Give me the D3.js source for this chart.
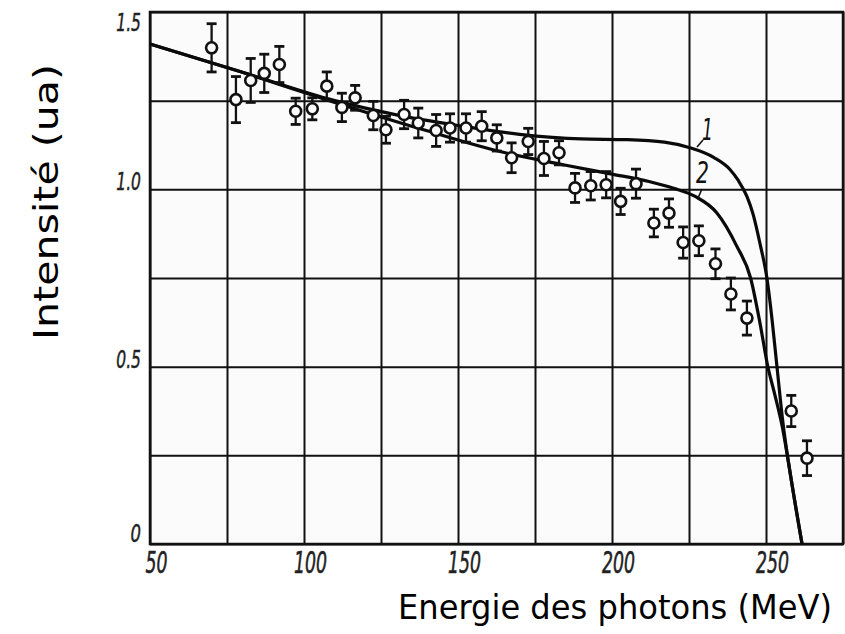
<!DOCTYPE html>
<html>
<head>
<meta charset="utf-8">
<script src="https://cdn.jsdelivr.net/npm/d3@7"></script>
<style>
  html, body { margin: 0; padding: 0; background: #ffffff; }
  svg { display: block; }
</style>
</head>
<body>
<svg id="chart" width="845" height="634"></svg>
<script>
// ---- data ----
const energy = [70.0, 77.9, 82.7, 87.1, 92.0, 97.3, 102.7, 107.4, 112.3, 116.6,
  122.5, 126.6, 132.5, 137.1, 142.9, 147.4, 152.6, 157.7, 162.6, 167.4,
  172.8, 177.9, 182.8, 188.0, 193.1, 198.1, 202.8, 207.8, 213.6, 218.5,
  223.1, 228.2, 233.6, 238.6, 243.8, 258.2, 263.3];
const intensity = [1.399, 1.253, 1.307, 1.327, 1.352, 1.220, 1.227, 1.291, 1.231, 1.258,
  1.208, 1.168, 1.211, 1.187, 1.166, 1.173, 1.173, 1.178, 1.145, 1.089,
  1.135, 1.087, 1.103, 1.004, 1.010, 1.013, 0.966, 1.016, 0.905, 0.933,
  0.850, 0.855, 0.790, 0.705, 0.637, 0.375, 0.242];
const errors = [0.068, 0.065, 0.062, 0.054, 0.051, 0.037, 0.031, 0.040, 0.040, 0.035,
  0.040, 0.038, 0.040, 0.042, 0.045, 0.040, 0.040, 0.041, 0.037, 0.042,
  0.037, 0.048, 0.034, 0.041, 0.040, 0.037, 0.037, 0.041, 0.039, 0.040,
  0.044, 0.042, 0.042, 0.045, 0.048, 0.044, 0.049];

const curve1E = [50, 80, 110, 130, 150, 170, 190, 205, 217, 225, 233, 238.3, 241, 243.8, 245.8, 248.1, 250.3, 252, 253.5, 255.5, 258.5, 261.7];
const curve1V = [1.41, 1.33, 1.25, 1.21, 1.18, 1.155, 1.142, 1.14, 1.133, 1.118, 1.09, 1.056, 1.025, 0.98, 0.93, 0.845, 0.75, 0.63, 0.505, 0.342, 0.165, 0.0];
const curve2E = [50, 80, 110, 140, 164, 185, 200, 212, 220, 227, 234, 240.5, 245, 248, 250.6, 252.9, 255.3, 258.5, 261.7];
const curve2V = [1.41, 1.33, 1.245, 1.165, 1.106, 1.068, 1.043, 1.022, 1.003, 0.98, 0.934, 0.84, 0.75, 0.625, 0.5, 0.42, 0.33, 0.165, 0.0];

const xTicks = [50, 100, 150, 200, 250];
const xTickLabels = ["50", "100", "150", "200", "250"];
const yTicks = [1.5, 1.0, 0.5, 0];
const yTickLabels = ["1.5", "1.0", "0.5", "0"];
const xGrid = [50, 75, 100, 125, 150, 175, 200, 225, 250, 275];
const yGrid = [0, 0.25, 0.5, 0.75, 1.0, 1.25, 1.5];
const curveLabels = ["1", "2"];

// ---- layout ----
const svg = d3.select("#chart");
const x = d3.scaleLinear().domain([50, 275]).range([150, 843]);
const y = d3.scaleLinear().domain([0, 1.5]).range([544, 12]);

svg.append("rect").attr("x", 148).attr("y", 10).attr("width", 697).attr("height", 536).attr("fill", "#fbfbfb");

// grid via axes
const gx = svg.append("g").attr("transform", `translate(0,${y(0)})`)
  .call(d3.axisBottom(x).tickValues(xGrid).tickSize(-(y(0) - y(1.5))).tickFormat(""));
const gy = svg.append("g").attr("transform", `translate(${x(50)},0)`)
  .call(d3.axisLeft(y).tickValues(yGrid).tickSize(-(x(275) - x(50))).tickFormat(""));
[gx, gy].forEach(g => {
  g.select(".domain").remove();
  g.selectAll(".tick line").attr("stroke", "#111").attr("stroke-width", 2);
});
// frame
svg.append("rect").attr("x", x(50)).attr("y", y(1.5))
  .attr("width", x(275) - x(50)).attr("height", y(0) - y(1.5))
  .attr("fill", "none").attr("stroke", "#111").attr("stroke-width", 2.5);

// tick labels (condensed italic digits)
const tickFont = "'DejaVu Sans', sans-serif";
const charW = s => s.split("").reduce((a, c) => a + (c === "." ? 4 : 11), 0);
const xl = svg.append("g").attr("transform", `translate(0,${y(0) + 26})`)
  .call(d3.axisBottom(x).tickValues(xTicks).tickSize(0).tickFormat((d, i) => xTickLabels[i]));
xl.select(".domain").remove();
xl.selectAll("text").attr("font-family", tickFont).attr("font-style", "italic")
  .attr("font-weight", 400).attr("font-size", 30).attr("fill", "#222").attr("dx", 6).attr("dy", 0)
  .attr("stroke", "#222").attr("stroke-width", 0.6)
  .attr("textLength", (d, i) => charW(xTickLabels[i])).attr("lengthAdjust", "spacingAndGlyphs");

const yl = svg.append("g").attr("transform", `translate(${x(50) - 6},0)`)
  .call(d3.axisLeft(y).tickValues(yTicks).tickSize(0).tickFormat((d, i) => yTickLabels[i]));
yl.select(".domain").remove();
yl.selectAll("text").attr("font-family", tickFont).attr("font-style", "italic")
  .attr("font-weight", 400).attr("font-size", 25).attr("fill", "#222")
  .attr("stroke", "#222").attr("stroke-width", 0.5)
  .attr("textLength", (d, i) => charW(yTickLabels[i]) * 0.95).attr("lengthAdjust", "spacingAndGlyphs")
  .attr("dy", d => d === 1.5 ? "0.72em" : (d === 0 ? "-0.1em" : "0.02em"));

// curves
const line = d3.line().x(d => x(d[0])).y(d => y(d[1])).curve(d3.curveMonotoneX);
svg.append("path").datum(curve1E.map((e, i) => [e, curve1V[i]]))
  .attr("d", line).attr("fill", "none").attr("stroke", "#0a0a0a").attr("stroke-width", 3.2);
svg.append("path").datum(curve2E.map((e, i) => [e, curve2V[i]]))
  .attr("d", line).attr("fill", "none").attr("stroke", "#0a0a0a").attr("stroke-width", 3.2);

// curve labels with small leaders
const lab = svg.append("g").attr("font-family", tickFont).attr("font-style", "italic")
  .attr("font-size", 30).attr("fill", "#111");
lab.append("text").attr("x", 702).attr("y", 140).attr("textLength", 11).attr("lengthAdjust", "spacingAndGlyphs").text(curveLabels[0]);
lab.append("line").attr("x1", 697).attr("y1", 147).attr("x2", 703).attr("y2", 140)
  .attr("stroke", "#111").attr("stroke-width", 1.6);
lab.append("text").attr("x", 696).attr("y", 183).attr("textLength", 13).attr("lengthAdjust", "spacingAndGlyphs").text(curveLabels[1]);
lab.append("line").attr("x1", 698).attr("y1", 198).attr("x2", 702).attr("y2", 189)
  .attr("stroke", "#111").attr("stroke-width", 1.6);

// data points with error bars
const pts = energy.map((e, i) => ({ e, v: intensity[i], err: errors[i] }));
const g = svg.append("g").attr("stroke", "#111").attr("stroke-width", 2.3);
const cap = 5;
g.selectAll("line.bar").data(pts).join("line").attr("class", "bar")
  .attr("x1", d => x(d.e)).attr("x2", d => x(d.e))
  .attr("y1", d => y(d.v + d.err)).attr("y2", d => y(d.v - d.err));
g.selectAll("line.capt").data(pts).join("line").attr("class", "capt")
  .attr("x1", d => x(d.e) - cap).attr("x2", d => x(d.e) + cap)
  .attr("y1", d => y(d.v + d.err)).attr("y2", d => y(d.v + d.err)).attr("stroke-width", 2.8);
g.selectAll("line.capb").data(pts).join("line").attr("class", "capb")
  .attr("x1", d => x(d.e) - cap).attr("x2", d => x(d.e) + cap)
  .attr("y1", d => y(d.v - d.err)).attr("y2", d => y(d.v - d.err)).attr("stroke-width", 2.8);
g.selectAll("circle").data(pts).join("circle")
  .attr("cx", d => x(d.e)).attr("cy", d => y(d.v)).attr("r", 5.5)
  .attr("fill", "#fbfbfb").attr("stroke-width", 2.6);

// axis titles
const titleFont = "'Comic Sans MS', 'DejaVu Sans', 'Noto Sans', sans-serif";
svg.append("text").attr("transform", "translate(58,202) rotate(-90)")
  .attr("text-anchor", "middle").attr("font-family", titleFont).attr("font-size", 33)
  .attr("textLength", 276).attr("lengthAdjust", "spacingAndGlyphs")
  .attr("fill", "#000").text("Intensité (ua)");
svg.append("text").attr("x", 615).attr("y", 619)
  .attr("text-anchor", "middle").attr("font-family", titleFont).attr("font-size", 33)
  .attr("textLength", 434).attr("lengthAdjust", "spacingAndGlyphs")
  .attr("fill", "#000").text("Energie des photons (MeV)");
</script>
</body>
</html>
